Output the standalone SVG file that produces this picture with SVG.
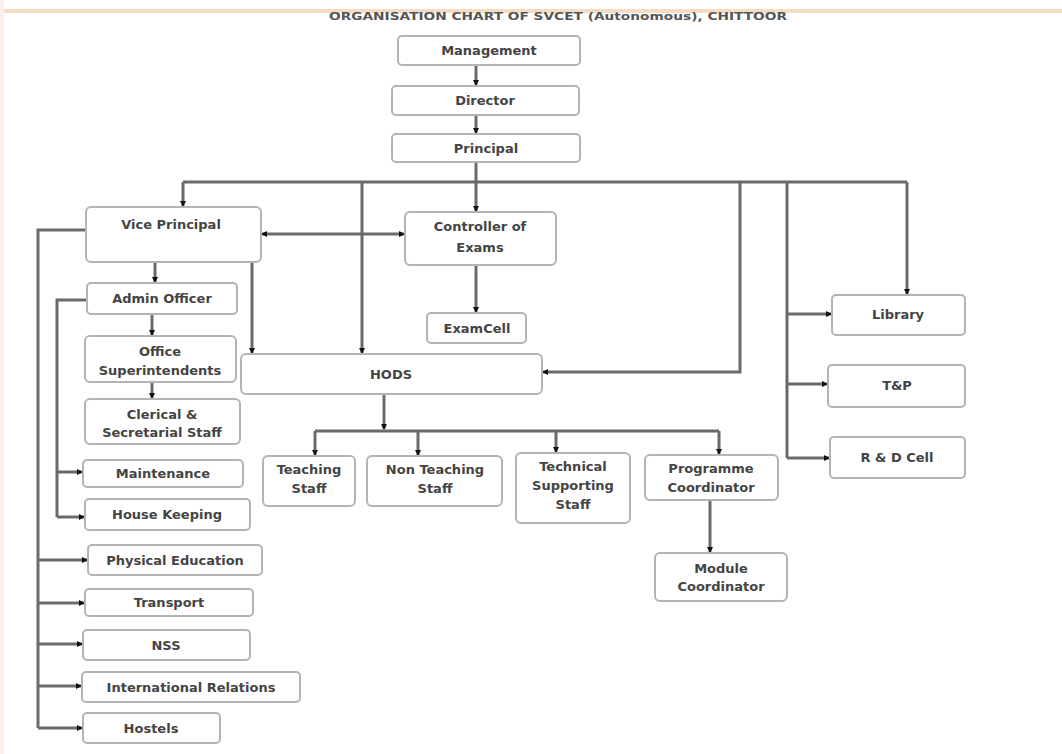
<svg xmlns="http://www.w3.org/2000/svg" width="1062" height="754" viewBox="0 0 1062 754">
<defs>
<marker id="ah" markerWidth="6" markerHeight="6" refX="5" refY="3" orient="auto" markerUnits="userSpaceOnUse">
<path d="M0,0 L6,3 L0,6 Z" fill="#111"/>
</marker>
<marker id="as" markerWidth="6" markerHeight="6" refX="1" refY="3" orient="auto" markerUnits="userSpaceOnUse">
<path d="M6,0 L0,3 L6,6 Z" fill="#111"/>
</marker>
<style>
.box{fill:#fff;stroke:#b4b4b4;stroke-width:2}
.t{font-family:"DejaVu Sans",Verdana,sans-serif;font-weight:bold;font-size:13px;fill:#444;text-anchor:middle}
.c{fill:none;stroke:#6a6a6a;stroke-width:3}
.a{marker-end:url(#ah)}
</style>
</defs>
<rect width="1062" height="754" fill="#fff"/>
<rect x="0" y="9" width="1062" height="4" fill="#f6dcc4"/>
<rect x="0" y="0" width="4" height="754" fill="#fbefec"/>
<text x="558" y="20" font-family="DejaVu Sans,sans-serif" font-weight="bold" font-size="11" fill="#555" text-anchor="middle" textLength="458" lengthAdjust="spacingAndGlyphs">ORGANISATION CHART OF SVCET (Autonomous), CHITTOOR</text>

<g id="connectors">
<path class="c a" d="M476,65 V85"/>
<path class="c a" d="M476,115 V133"/>
<path class="c a" d="M476,162 V211"/>
<path class="c" d="M183,182 H907"/>
<path class="c a" d="M183,182 V206"/>
<path class="c a" d="M362,182 V353"/>
<path class="c a" d="M740,182 V372 H543"/>
<path class="c a" d="M907,182 V294"/>
<path class="c" d="M787,182 V458"/>
<path class="c a" d="M787,314 H831"/>
<path class="c a" d="M787,384 H827"/>
<path class="c a" d="M787,458 H829"/>
<path class="c a" d="M262,234 H404" marker-start="url(#as)"/>
<path class="c a" d="M252,262 V353"/>
<path class="c a" d="M476,265 V312"/>
<path class="c a" d="M155,262 V282"/>
<path class="c a" d="M152,314 V335"/>
<path class="c a" d="M152,382 V398"/>
<path class="c" d="M86,230 H38 V728"/>
<path class="c a" d="M38,560 H87"/>
<path class="c a" d="M38,603 H84"/>
<path class="c a" d="M38,644 H82"/>
<path class="c a" d="M38,686 H81"/>
<path class="c a" d="M38,728 H82"/>
<path class="c" d="M87,300 H57 V517"/>
<path class="c a" d="M57,472 H82"/>
<path class="c a" d="M57,517 H84"/>
<path class="c a" d="M384,394 V429"/>
<path class="c" d="M315,431 H719"/>
<path class="c a" d="M315,431 V455"/>
<path class="c a" d="M418,431 V455"/>
<path class="c a" d="M556,431 V452"/>
<path class="c a" d="M719,431 V454"/>
<path class="c a" d="M710,500 V552"/>
</g>

<g id="management"><rect class="box" x="398" y="36" width="182" height="29" rx="4"/><text class="t" x="489" y="55">Management</text></g>
<g id="director"><rect class="box" x="392" y="86" width="187" height="29" rx="4"/><text class="t" x="485" y="105">Director</text></g>
<g id="principal"><rect class="box" x="392" y="134" width="188" height="28" rx="4"/><text class="t" x="486" y="153">Principal</text></g>
<g id="vice-principal"><rect class="box" x="86" y="207" width="175" height="55" rx="5"/><text class="t" x="171" y="229">Vice Principal</text></g>
<g id="controller"><rect class="box" x="405" y="212" width="151" height="53" rx="5"/><text class="t" x="480" y="231">Controller of</text><text class="t" x="480" y="252">Exams</text></g>
<g id="examcell"><rect class="box" x="427" y="313" width="99" height="30" rx="4"/><text class="t" x="477" y="333">ExamCell</text></g>
<g id="hods"><rect class="box" x="241" y="354" width="301" height="40" rx="5"/><text class="t" x="391" y="379">HODS</text></g>
<g id="admin-officer"><rect class="box" x="87" y="283" width="150" height="31" rx="4"/><text class="t" x="162" y="303">Admin Officer</text></g>
<g id="office-supt"><rect class="box" x="85" y="336" width="151" height="46" rx="5"/><text class="t" x="160" y="356">Office</text><text class="t" x="160" y="375">Superintendents</text></g>
<g id="clerical"><rect class="box" x="85" y="399" width="155" height="45" rx="5"/><text class="t" x="162" y="419">Clerical &amp;</text><text class="t" x="162" y="437">Secretarial Staff</text></g>
<g id="maintenance"><rect class="box" x="83" y="460" width="160" height="27" rx="4"/><text class="t" x="163" y="478">Maintenance</text></g>
<g id="house-keeping"><rect class="box" x="85" y="499" width="165" height="31" rx="4"/><text class="t" x="167" y="519">House Keeping</text></g>
<g id="physical-education"><rect class="box" x="88" y="545" width="174" height="30" rx="4"/><text class="t" x="175" y="565">Physical Education</text></g>
<g id="transport"><rect class="box" x="85" y="589" width="168" height="27" rx="4"/><text class="t" x="169" y="607">Transport</text></g>
<g id="nss"><rect class="box" x="83" y="630" width="167" height="30" rx="4"/><text class="t" x="166" y="650">NSS</text></g>
<g id="international-relations"><rect class="box" x="82" y="672" width="218" height="30" rx="4"/><text class="t" x="191" y="692">International Relations</text></g>
<g id="hostels"><rect class="box" x="83" y="713" width="137" height="30" rx="4"/><text class="t" x="151" y="733">Hostels</text></g>
<g id="teaching-staff"><rect class="box" x="263" y="456" width="92" height="50" rx="5"/><text class="t" x="309" y="474">Teaching</text><text class="t" x="309" y="493">Staff</text></g>
<g id="non-teaching-staff"><rect class="box" x="367" y="456" width="135" height="50" rx="5"/><text class="t" x="435" y="474">Non Teaching</text><text class="t" x="435" y="493">Staff</text></g>
<g id="technical-staff"><rect class="box" x="516" y="453" width="114" height="70" rx="5"/><text class="t" x="573" y="471">Technical</text><text class="t" x="573" y="490">Supporting</text><text class="t" x="573" y="509">Staff</text></g>
<g id="programme-coordinator"><rect class="box" x="645" y="455" width="133" height="45" rx="5"/><text class="t" x="711" y="473">Programme</text><text class="t" x="711" y="492">Coordinator</text></g>
<g id="module-coordinator"><rect class="box" x="655" y="553" width="132" height="48" rx="5"/><text class="t" x="721" y="573">Module</text><text class="t" x="721" y="591">Coordinator</text></g>
<g id="library"><rect class="box" x="832" y="295" width="133" height="40" rx="4"/><text class="t" x="898" y="319">Library</text></g>
<g id="tp"><rect class="box" x="828" y="365" width="137" height="42" rx="4"/><text class="t" x="897" y="390">T&amp;P</text></g>
<g id="rd-cell"><rect class="box" x="830" y="437" width="135" height="41" rx="4"/><text class="t" x="897" y="462">R &amp; D Cell</text></g>
</svg>
